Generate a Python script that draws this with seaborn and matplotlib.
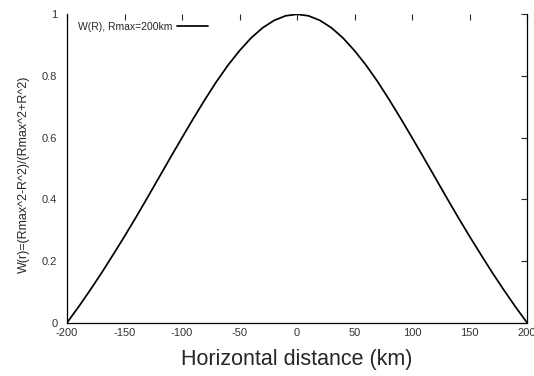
import pandas as pd
import seaborn as sns
import matplotlib.pyplot as plt

sns.set_style("white")
plt.rcParams['font.family'] = ['Liberation Sans', 'DejaVu Sans']

# horizontal distance (km) and weight
distance = [-200, -190, -180, -170, -160, -150, -140, -130, -120, -110,
            -100, -90, -80, -70, -60, -50, -40, -30, -20, -10,
            0, 10, 20, 30, 40, 50, 60, 70, 80, 90,
            100, 110, 120, 130, 140, 150, 160, 170, 180, 190, 200]
weight = [0.0, 0.051, 0.105, 0.161, 0.22, 0.28, 0.342, 0.406, 0.471, 0.536,
          0.60, 0.663, 0.724, 0.782, 0.835, 0.882, 0.923, 0.956, 0.98, 0.995,
          1.0, 0.995, 0.98, 0.956, 0.923, 0.882, 0.835, 0.782, 0.724, 0.663,
          0.60, 0.536, 0.471, 0.406, 0.342, 0.28, 0.22, 0.161, 0.105, 0.051, 0.0]
xticks = [-200, -150, -100, -50, 0, 50, 100, 150, 200]
yticks = [0, 0.2, 0.4, 0.6, 0.8, 1]
ytick_labels = ['0', '0.2', '0.4', '0.6', '0.8', '1']

df = pd.DataFrame({'R': distance, 'W': weight})

fig = plt.figure(figsize=(5.34, 3.76), dpi=100)
ax = fig.add_axes([0.1255, 0.1418, 0.8615, 0.8202])
sns.lineplot(data=df, x='R', y='W', ax=ax, color='black', linewidth=1.25,
             label='W(R), Rmax=200km')

ax.set_xlim(-200, 200)
ax.set_ylim(0, 1)
ax.set_xticks(xticks)
ax.set_xticklabels([str(t) for t in xticks])
ax.set_yticks(yticks)
ax.set_yticklabels(ytick_labels)
ax.tick_params(direction='in', length=4, width=0.8, labelsize=8,
               labelcolor='#333333', top=True, right=True)
ax.tick_params(axis='x', pad=4)
ax.tick_params(axis='y', pad=7)
ax.spines['top'].set_visible(False)
for s in ['left', 'right', 'bottom']:
    ax.spines[s].set_color('black')
    ax.spines[s].set_linewidth(0.9)

ax.set_xlabel('Horizontal distance (km)', fontsize=15.5, labelpad=8)
ax.set_ylabel('W(r)=(Rmax^2-R^2)/(Rmax^2+R^2)', fontsize=9)
ax.yaxis.set_label_coords(-0.080, 0.482)

ax.legend(loc='upper left', frameon=False, fontsize=7.5, markerfirst=False,
          handlelength=3.0, handletextpad=0.4, borderaxespad=0.3,
          bbox_to_anchor=(0.008, 1.0))

fig.savefig('out.png', dpi=100)
